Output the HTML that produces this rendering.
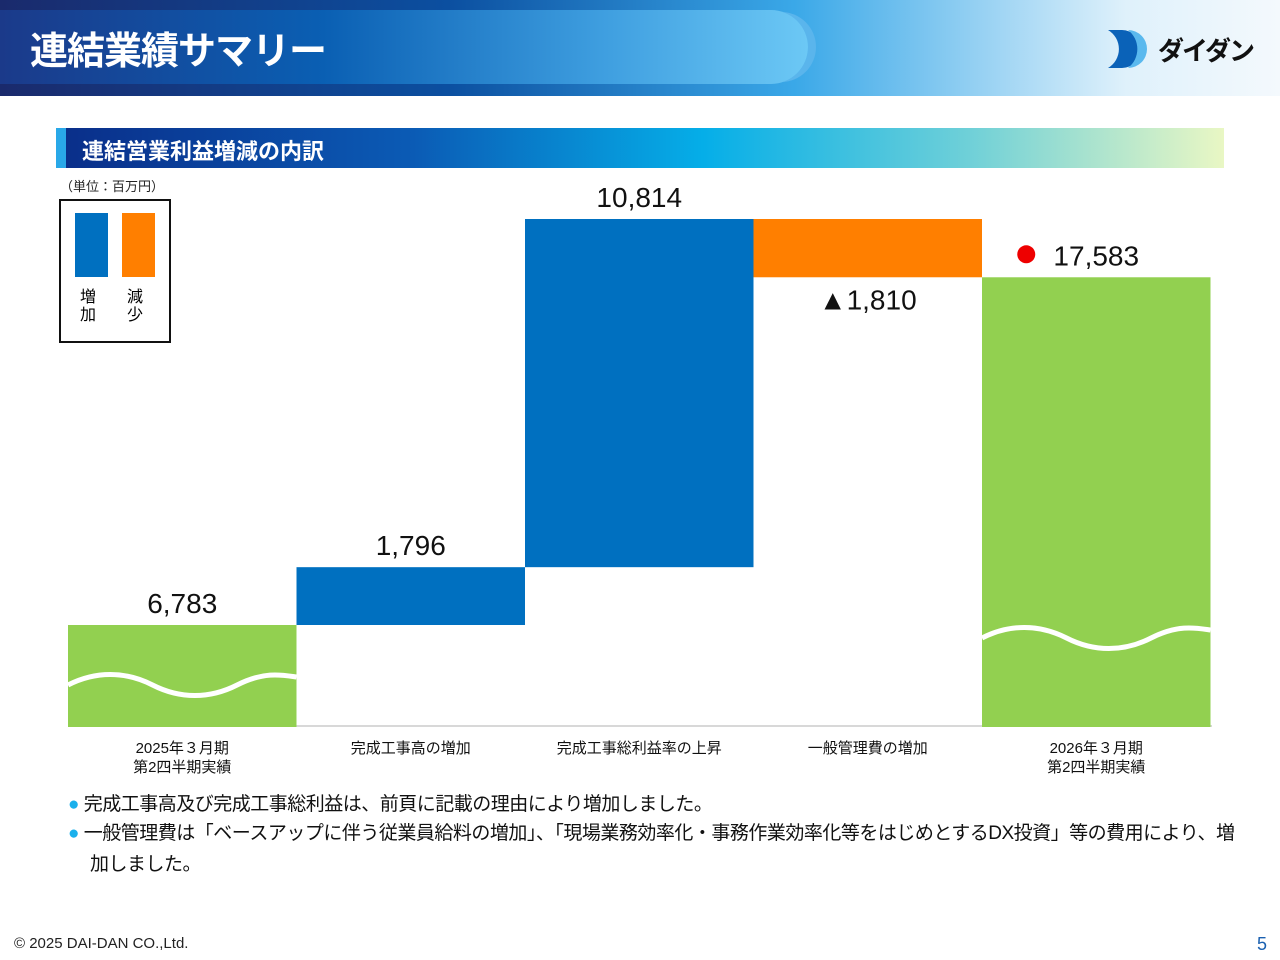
<!DOCTYPE html>
<html><head><meta charset="utf-8">
<style>
body{margin:0;width:1280px;height:960px;background:#fff;font-family:"Liberation Sans","Noto Sans CJK JP",sans-serif;position:relative;overflow:hidden}
.abs{position:absolute}
</style></head><body>
<div class="abs" style="left:0;top:0;width:1280px;height:96px;background:linear-gradient(90deg,#1a2a6c 0%,#0b4fa0 35%,#3aa8e8 62%,#dff1fb 88%,#f4f9fd 100%)"></div>
<div class="abs" style="left:0;top:10px;width:808px;height:74px;border-radius:0 40px 40px 0;background:linear-gradient(90deg,#1b3a8a 0%,#0a5fb3 40%,#3f9fe0 75%,#6cc8f5 100%);box-shadow:10px 0 0 -2px #5ab5ec"></div>
<div class="abs" style="left:30px;top:20px;color:#fff;font-size:38px;font-weight:bold;letter-spacing:-1px">連結業績サマリー</div>
<svg class="abs" style="left:1106px;top:28px" width="56" height="42"><path d="M2 2 h14 a19 19 0 0 1 0 38 h-14 a22 22 0 0 0 0 -38z" fill="#0a62b8"/><path d="M22 2 a19 19 0 0 1 0 38 a24 24 0 0 0 0 -38z" fill="#5ab9ee"/></svg>
<div class="abs" style="left:1158px;top:31px;font-size:26px;font-weight:bold;color:#111;letter-spacing:-2px">ダイダン</div>

<div class="abs" style="left:56px;top:128px;width:1168px;height:40px;background:linear-gradient(90deg,#0a2f8a 0%,#0b5bb5 30%,#05aee8 55%,#6fd0d8 78%,#e9f7c4 100%);border-left:10px solid #29a8e8;box-sizing:border-box"></div>
<div class="abs" style="left:82px;top:134px;color:#fff;font-size:22px;font-weight:bold">連結営業利益増減の内訳</div>
<div class="abs" style="left:60px;top:176px;font-size:13px;color:#222">（単位：百万円）</div>

<div class="abs" style="left:59px;top:199px;width:112px;height:144px;border:2px solid #111;box-sizing:border-box">
 <div class="abs" style="left:14px;top:12px;width:33px;height:64px;background:#0070c0"></div>
 <div class="abs" style="left:61px;top:12px;width:33px;height:64px;background:#ff7f00"></div>
 <div class="abs" style="left:19px;top:88px;font-size:16px;line-height:18px">増<br>加</div>
 <div class="abs" style="left:66px;top:88px;font-size:16px;line-height:18px">減<br>少</div>
</div>

<svg id="chart" class="abs" style="left:0;top:0" width="1280" height="960"></svg>

<div class="abs" style="left:68px;top:789px;font-size:19px;color:#111;letter-spacing:-0.5px"><span style="color:#1ab0ec">●</span> 完成工事高及び完成工事総利益は、前頁に記載の理由により増加しました。</div>
<div class="abs" style="left:68px;top:818px;width:1158px;font-size:19px;line-height:31px;color:#111;padding-left:22px;text-indent:-22px;letter-spacing:-0.5px"><span style="color:#1ab0ec">●</span> 一般管理費は「ベースアップに伴う従業員給料の増加」、「現場業務効率化・事務作業効率化等をはじめとするDX投資」等の費用により、増加しました。</div>
<div class="abs" style="left:14px;top:935px;font-size:15px;color:#222">© 2025 DAI-DAN CO.,Ltd.</div>
<div class="abs" style="left:1257px;top:934px;font-size:18px;color:#1a60b0">5</div>

<script>
const categories=["2025年３月期\n第2四半期実績","完成工事高の増加","完成工事総利益率の上昇","一般管理費の増加","2026年３月期\n第2四半期実績"];
const values=[6783,1796,10814,-1810,17583];
const types=["total","inc","inc","dec","total"];
const labels=["6,783","1,796","10,814","▲1,810","17,583"];
const NS="http://www.w3.org/2000/svg";
const svg=document.getElementById('chart');
const x0=68,bw=228.5,base=727;
function y(v){return 625-(v-6783)*(406/(19393-6783));}
function mk(t,a){const e=document.createElementNS(NS,t);for(const k in a)e.setAttribute(k,a[k]);svg.appendChild(e);return e;}
const ax=mk('line',{x1:68,x2:1212,y1:726,y2:726,stroke:'#ccc','stroke-width':1.5});


let run=0;
values.forEach((v,i)=>{
  const bx=x0+i*bw;let top,bot,col;
  if(types[i]==='total'){top=y(v);bot=base;col='#92d050';run=v;}
  else{const s=run,e=run+v;top=y(Math.max(s,e));bot=y(Math.min(s,e));col=v>0?'#0070c0':'#ff7f00';run=e;}
  const r=mk('rect',{x:bx,y:top,width:bw,height:bot-top,fill:col});
  
  
  if(types[i]==='total'){
    const wy=i===0?685:638,w=bw;
    const p=mk('path',{d:`M${bx} ${wy} c${w*0.12} -14 ${w*0.25} -14 ${w*0.37} 0 s${w*0.25} 14 ${w*0.37} 0 s${w*0.2} -10 ${w*0.26} -8`,fill:'none',stroke:'#fff','stroke-width':5});
    
    
  }
  const cx=bx+bw/2;
  let ly=(v<0)?bot+32:top-12;
  const t=mk('text',{x:cx,y:ly,'text-anchor':'middle','font-size':28,fill:'#111'});
  t.textContent=labels[i];
  
  
  if(i===4){const d=mk('circle',{cx:cx-70,cy:ly-11,r:9,fill:'#e00'});}
  categories[i].split('\n').forEach((ln,j)=>{
    const c=mk('text',{x:cx,y:753+j*19,'text-anchor':'middle','font-size':15,fill:'#111'});
    c.textContent=ln;
    
    
  });
});
</script>
</body></html>
